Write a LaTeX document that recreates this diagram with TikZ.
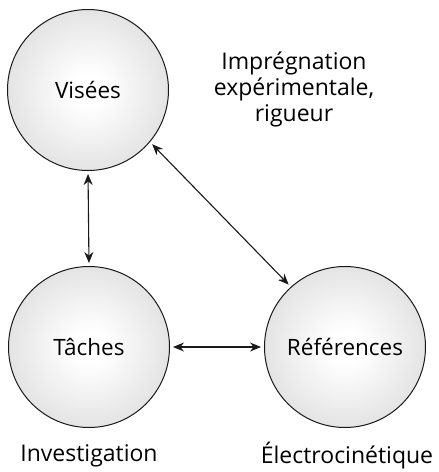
\documentclass[tikz,border=0pt]{standalone}
\usepackage{fontspec}
\setmainfont{Open Sans}
\usetikzlibrary{arrows.meta}
\pgfdeclareradialshading{ballshade}{\pgfpoint{0bp}{0bp}}{color(0bp)=(white); color(5bp)=(white); color(50bp)=(black!24); color(72bp)=(black!24)}
\tikzset{
  ball/.style={circle, draw=black!90, line width=1pt, minimum size=161pt, inner sep=0pt, shading=ballshade, font=\fontsize{22.5}{26}\selectfont},
  lbl/.style={font=\fontsize{23}{26}\selectfont, align=center, inner sep=0pt},
  link/.style={line width=1.1pt, black!90, {Stealth[length=11pt,width=9pt]}-{Stealth[length=11pt,width=9pt]}}
}
\begin{document}
\begin{tikzpicture}[x=1pt,y=-1pt]
\useasboundingbox (0,0) rectangle (439,472);
\node[ball] (vis) at (88,90) {Visées};
\node[ball] (tac) at (89,347) {Tâches};
\node[ball] (ref) at (345,347) {Références};
\node[lbl] (imp) at (294,89) {Imprégnation\\expérimentale,\\rigueur};
\node[lbl] (inv) at (89,456) {Investigation};
\node[lbl] (ele) at (347,456) {Électrocinétique};
\draw[link, shorten <=3pt, shorten >=3pt] (vis.-90) -- (tac.90);
\draw[link, shorten <=3pt, shorten >=3pt] (tac.0) -- (ref.180);
\draw[link, shorten <=3pt, shorten >=3pt] (vis.-40) -- (ref.132);
\end{tikzpicture}
\end{document}
